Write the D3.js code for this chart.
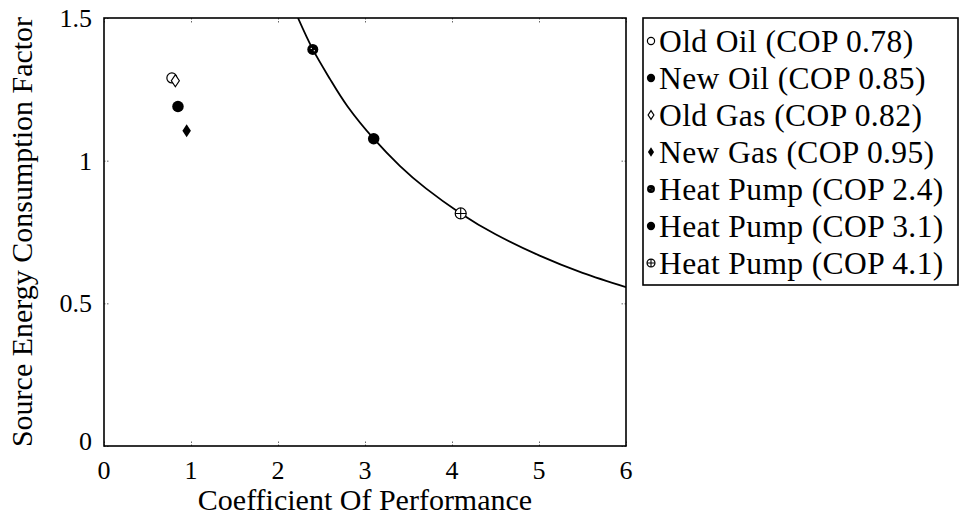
<!DOCTYPE html>
<html>
<head>
<meta charset="utf-8">
<script src="https://cdn.jsdelivr.net/npm/d3@7"></script>
<style>
  html, body { margin: 0; padding: 0; background: #fff; }
  svg { display: block; }
</style>
</head>
<body>
<svg id="chart" width="960" height="520" font-family="'Liberation Serif', 'Times New Roman', serif"></svg>
<script>
// ---- data ----
const seriesLabels = [
  "Old Oil (COP 0.78)",
  "New Oil (COP 0.85)",
  "Old Gas (COP 0.82)",
  "New Gas (COP 0.95)",
  "Heat Pump (COP 2.4)",
  "Heat Pump (COP 3.1)",
  "Heat Pump (COP 4.1)"
];
const copValues = [0.78, 0.85, 0.82, 0.95, 2.4, 3.1, 4.1];
const factorValues = [1.29, 1.19, 1.28, 1.105, 1.39, 1.077, 0.815];
const markerTypes = ["circleOpen", "circleFilled", "diamondOpen", "diamondFilled", "circleSpeckled", "circleFilled", "circlePlus"];

// reference curve
const curveX = [2.23, 2.4, 2.6, 2.8, 3.1, 3.4, 3.7, 4.1, 4.5, 5.0, 5.5, 6.0];
const curveY = [1.50, 1.39, 1.285, 1.19, 1.077, 0.982, 0.903, 0.815, 0.742, 0.668, 0.607, 0.557];

const xTicks = [0, 1, 2, 3, 4, 5, 6];
const yTicks = [0, 0.5, 1, 1.5];
const xTickLabels = ["0", "1", "2", "3", "4", "5", "6"];
const yTickLabels = ["0", "0.5", "1", "1.5"];
const xTitle = "Coefficient Of Performance";
const yTitle = "Source Energy Consumption Factor";

// ---- layout ----
const FONT = "'Liberation Serif', 'Times New Roman', serif";
const svg = d3.select("#chart");
const plot = { left: 104, right: 626, top: 18, bottom: 446 };

const x = d3.scaleLinear().domain([0, 6]).range([plot.left, plot.right]);
const y = d3.scaleLinear().domain([0, 1.5]).range([plot.bottom, plot.top]);

const tickFont = 26;
const labelFont = 30;

// clip
svg.append("clipPath").attr("id", "clip")
  .append("rect")
  .attr("x", plot.left).attr("y", plot.top)
  .attr("width", plot.right - plot.left).attr("height", plot.bottom - plot.top);

// ticks (inward, faint) via d3 axes
const tickStyle = g => {
  g.select(".domain").remove();
  g.selectAll(".tick line").attr("stroke", "#666").attr("stroke-width", 1).attr("stroke-dasharray", "1.5,1.5");
  g.selectAll(".tick text").remove();
};
svg.append("g").attr("transform", `translate(0,${plot.bottom})`)
  .call(d3.axisBottom(x).tickValues(xTicks).tickSize(-5)).call(tickStyle);
svg.append("g").attr("transform", `translate(0,${plot.top})`)
  .call(d3.axisTop(x).tickValues(xTicks).tickSize(-5)).call(tickStyle);
svg.append("g").attr("transform", `translate(${plot.left},0)`)
  .call(d3.axisLeft(y).tickValues(yTicks).tickSize(-5)).call(tickStyle);
svg.append("g").attr("transform", `translate(${plot.right},0)`)
  .call(d3.axisRight(y).tickValues(yTicks).tickSize(-5)).call(tickStyle);

// tick labels
svg.append("g").selectAll("text").data(xTicks).join("text")
  .attr("font-family", FONT)
  .attr("x", d => x(d))
  .attr("y", plot.bottom + 33)
  .attr("text-anchor", "middle")
  .attr("font-size", tickFont)
  .text((d, i) => xTickLabels[i]);

svg.append("g").selectAll("text").data(yTicks).join("text")
  .attr("font-family", FONT)
  .attr("x", plot.left - 12)
  .attr("y", d => y(d) + (d === 0 ? 4 : 9))
  .attr("text-anchor", "end")
  .attr("font-size", tickFont)
  .text((d, i) => yTickLabels[i]);

// axis titles
svg.append("text")
  .attr("font-family", FONT)
  .attr("x", (plot.left + plot.right) / 2)
  .attr("y", 510)
  .attr("text-anchor", "middle")
  .attr("font-size", labelFont)
  .text(xTitle);

svg.append("text")
  .attr("font-family", FONT)
  .attr("transform", `translate(32,${(plot.top + plot.bottom) / 2}) rotate(-90)`)
  .attr("text-anchor", "middle")
  .attr("font-size", labelFont)
  .text(yTitle);

// curve
const curvePts = curveX.map((d, i) => [d, curveY[i]]);
svg.append("path")
  .datum(curvePts)
  .attr("clip-path", "url(#clip)")
  .attr("fill", "none")
  .attr("stroke", "#000")
  .attr("stroke-width", 1.8)
  .attr("d", d3.line().x(d => x(d[0])).y(d => y(d[1])).curve(d3.curveNatural));

// frame
svg.append("rect")
  .attr("x", plot.left).attr("y", plot.top)
  .attr("width", plot.right - plot.left).attr("height", plot.bottom - plot.top)
  .attr("fill", "none").attr("stroke", "#000").attr("stroke-width", 1.6);

// marker drawing
function drawMarker(g, type, s) {
  if (type === "circleOpen") {
    g.append("circle").attr("r", s).attr("fill", "#fff").attr("stroke", "#000").attr("stroke-width", 1.2);
  } else if (type === "circleFilled") {
    g.append("circle").attr("r", s * 1.15).attr("fill", "#000");
  } else if (type === "diamondOpen") {
    g.append("path").attr("d", `M0,${-s * 1.2}L${s * 0.8},0L0,${s * 1.2}L${-s * 0.8},0Z`)
      .attr("fill", "#fff").attr("stroke", "#000").attr("stroke-width", 1.2);
  } else if (type === "diamondFilled") {
    g.append("path").attr("d", `M0,${-s * 1.3}L${s * 0.85},0L0,${s * 1.3}L${-s * 0.85},0Z`).attr("fill", "#000");
  } else if (type === "circleSpeckled") {
    g.append("circle").attr("r", s * 1.1).attr("fill", "#000");
    g.append("circle").attr("cx", -s * 0.3).attr("cy", -s * 0.2).attr("r", s * 0.13).attr("fill", "#fff");
    g.append("circle").attr("cx", s * 0.3).attr("cy", s * 0.25).attr("r", s * 0.13).attr("fill", "#fff");
  } else if (type === "circlePlus") {
    g.append("circle").attr("r", s * 1.1).attr("fill", "#fff").attr("stroke", "#000").attr("stroke-width", 1.2);
    g.append("path").attr("d", `M${-s * 1.1},0H${s * 1.1}M0,${-s * 1.1}V${s * 1.1}`)
      .attr("stroke", "#000").attr("stroke-width", 1.1);
  }
}

// points
const pts = svg.append("g").attr("clip-path", "url(#clip)");
copValues.forEach((c, i) => {
  const g = pts.append("g").attr("transform", `translate(${x(c)},${y(factorValues[i])})`);
  drawMarker(g, markerTypes[i], 5);
});

// legend
const legend = { left: 643, top: 18, right: 958, bottom: 285 };
svg.append("rect")
  .attr("x", legend.left).attr("y", legend.top)
  .attr("width", legend.right - legend.left).attr("height", legend.bottom - legend.top)
  .attr("fill", "#fff").attr("stroke", "#000").attr("stroke-width", 1.6);

const rowY = d3.scalePoint().domain(d3.range(seriesLabels.length)).range([41, 263]);
seriesLabels.forEach((lab, i) => {
  const cy = rowY(i);
  const g = svg.append("g").attr("transform", `translate(651,${cy})`);
  drawMarker(g, markerTypes[i], 3.6);
  svg.append("text")
    .attr("font-family", FONT)
    .attr("x", 659)
    .attr("y", cy + 11)
    .attr("font-size", 31.5)
    .attr("letter-spacing", 0.4)
    .text(lab);
});
</script>
</body>
</html>
